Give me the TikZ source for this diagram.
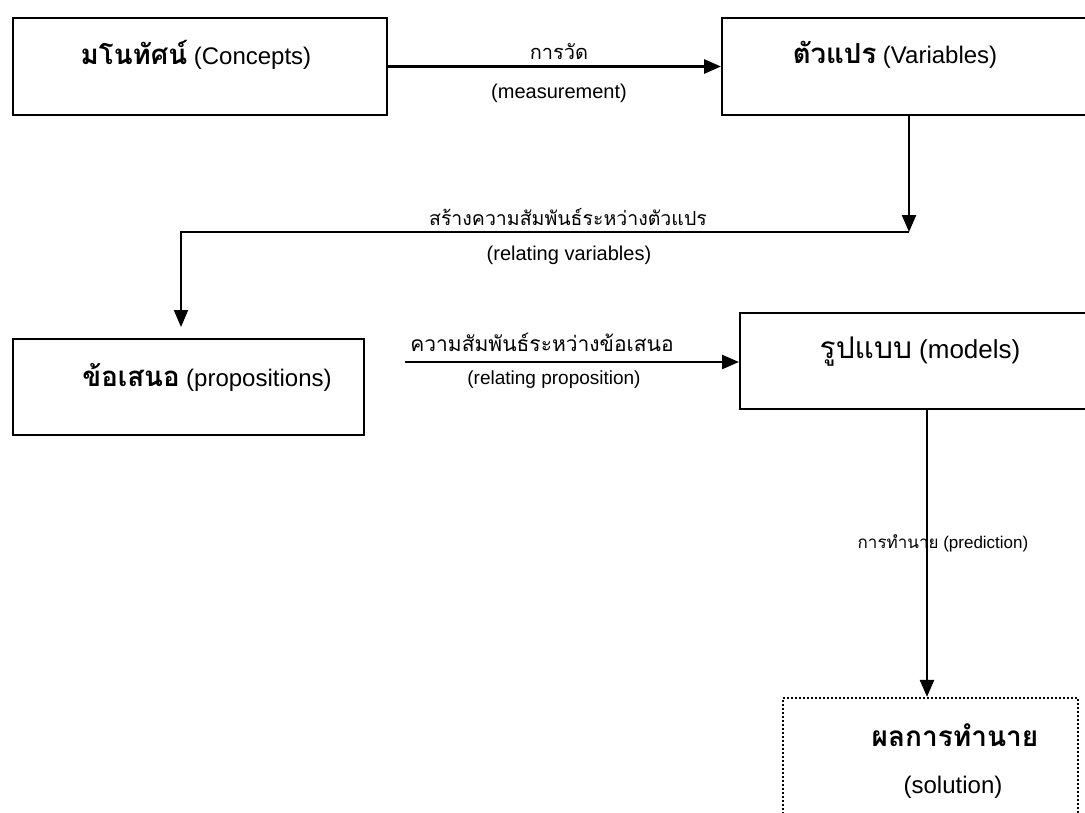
\documentclass[tikz,border=0pt]{standalone}
\usepackage{fontspec}
\setmainfont{Liberation Sans}
\newfontfamily\thai[Script=Thai]{Loma}
\newfontfamily\thaibig[Script=Thai,Scale=1.15]{Loma}
\usetikzlibrary{arrows.meta}

\begin{document}
\begin{tikzpicture}[x=1pt,y=-1pt,
    box/.style={draw,line width=2pt,inner sep=0pt},
    txt/.style={font=\fontsize{24}{28}\selectfont,inner sep=0pt},
    lbl/.style={font=\fontsize{20}{24}\selectfont,inner sep=0pt},
    arr/.style={line width=2.4pt,-{Triangle[length=17pt,width=14pt]}}]

    \useasboundingbox (0,0) rectangle (1085,812);

    \node[box,minimum width=374pt,minimum height=97pt] (1) at (200,66.5) {};
    \node[box,minimum width=374pt,minimum height=97pt] (2) at (909,66.5) {};
    \node[box,minimum width=351pt,minimum height=96pt] (3) at (188,387) {};
    \node[box,minimum width=374pt,minimum height=96pt] (4) at (927,361) {};
    \node[draw,line width=2.2pt,dash pattern=on 2pt off 2pt,inner sep=0pt,
          minimum width=295pt,minimum height=140pt] (5) at (930.5,768) {};

    \node[txt] (t1) at (196,55) {{\thaibig\bfseries มโนทัศน์} (Concepts)};
    \node[txt] (t2) at (895,55) {{\thaibig\bfseries ตัวแปร} (Variables)};
    \node[txt] (t3) at (207,377) {{\thaibig\bfseries ข้อเสนอ} (propositions)};
    \node[txt,font=\fontsize{26}{30}\selectfont] (t4) at (920,352) {{\thaibig รูปแบบ} (models)};
    \node[font=\fontsize{28}{32}\selectfont\thai\bfseries,inner sep=0pt] (t5) at (955,735) {ผลการทำนาย};
    \node[txt] (t6) at (953,787) {(solution)};

    \draw[arr,line width=3pt] (1.east) -- (2.west);
    \node[lbl] (a1) at (559,52) {\thai การวัด};
    \node[lbl] (a2) at (559,93) {(measurement)};

    \coordinate (c1) at (909,232);
    \coordinate (c2) at (181,232);
    \coordinate (c3) at (181,327);
    \draw[arr] (2) -- (c1);
    \draw[arr,line width=2pt] (c1) -- (c2) -- (c3);
    \node[lbl,font=\fontsize{19.5}{23}\selectfont] (b1) at (568,217) {\thai สร้างความสัมพันธ์ระหว่างตัวแปร};
    \node[lbl] (b2) at (569,255) {(relating variables)};

    \coordinate (p) at (405,362);
    \draw[arr] (p) -- (p -| 4.west);
    \node[lbl,font=\fontsize{21}{25}\selectfont] (d1) at (542,342) {\thai ความสัมพันธ์ระหว่างข้อเสนอ};
    \node[lbl,font=\fontsize{19}{23}\selectfont] (d2) at (554,380) {(relating proposition)};

    \draw[arr] (4) -- (4 |- 5.north);
    \node[font=\fontsize{17}{20}\selectfont,inner sep=0pt] (e1) at (943,543) {{\thai การทำนาย} (prediction)};

\end{tikzpicture}
\end{document}
